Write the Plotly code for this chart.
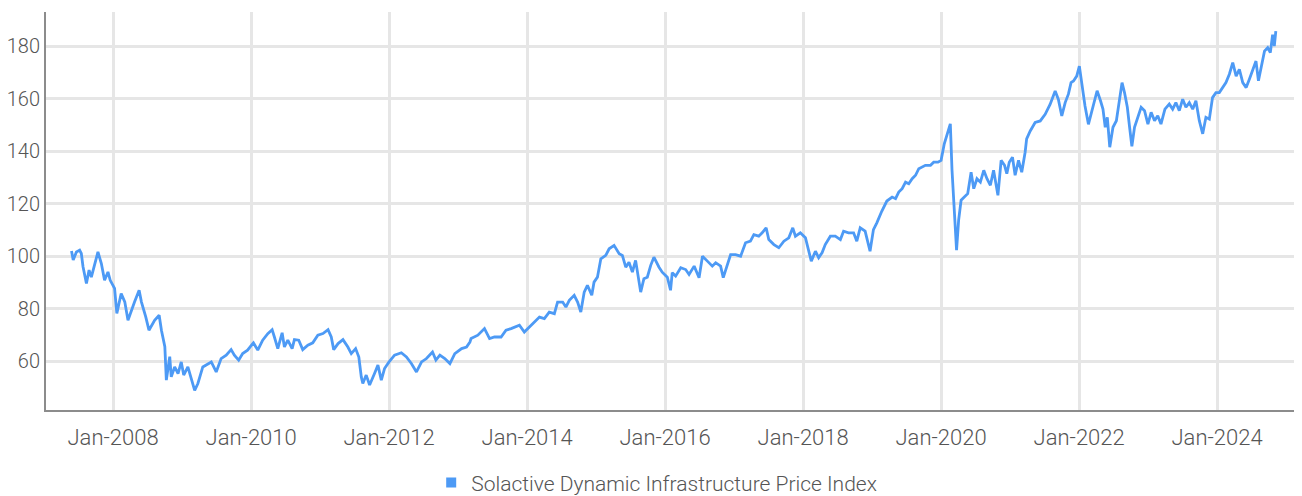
import plotly.graph_objects as go

series_name = "Solactive Dynamic Infrastructure Price Index"

dates = [
    "2007-05-26", "2007-06-04", "2007-06-21", "2007-07-08", "2007-07-17", "2007-07-26",
    "2007-08-13", "2007-08-27", "2007-09-08", "2007-09-21", "2007-10-13", "2007-10-31",
    "2007-11-17", "2007-12-05", "2007-12-17", "2008-01-09", "2008-01-21", "2008-02-13",
    "2008-03-03", "2008-03-20", "2008-04-07", "2008-04-24", "2008-05-18", "2008-05-30",
    "2008-06-22", "2008-07-09", "2008-08-08", "2008-09-01", "2008-09-13", "2008-10-01",
    "2008-10-09", "2008-10-27", "2008-11-04", "2008-11-22", "2008-12-10", "2008-12-27",
    "2009-01-09", "2009-01-31", "2009-03-08", "2009-03-25", "2009-04-20", "2009-05-17",
    "2009-06-04", "2009-06-30", "2009-07-26", "2009-08-22", "2009-09-17", "2009-10-04",
    "2009-10-27", "2009-11-17", "2009-12-13", "2010-01-09", "2010-01-13", "2010-02-05",
    "2010-03-03", "2010-03-30", "2010-04-22", "2010-05-04", "2010-05-22", "2010-06-14",
    "2010-06-26", "2010-07-14", "2010-08-06", "2010-08-18", "2010-09-10", "2010-10-01",
    "2010-10-28", "2010-11-23", "2010-12-20", "2011-01-16", "2011-02-12", "2011-03-01",
    "2011-03-14", "2011-04-06", "2011-05-02", "2011-05-28", "2011-06-15", "2011-07-08",
    "2011-07-25", "2011-08-07", "2011-08-15", "2011-09-02", "2011-09-20", "2011-10-16",
    "2011-11-03", "2011-11-21", "2011-12-08", "2012-01-01", "2012-01-30", "2012-03-06",
    "2012-04-02", "2012-04-28", "2012-05-25", "2012-06-21", "2012-07-17", "2012-08-18",
    "2012-09-05", "2012-09-26", "2012-10-22", "2012-11-18", "2012-12-14", "2013-01-19",
    "2013-02-14", "2013-03-04", "2013-03-10", "2013-04-15", "2013-05-20", "2013-06-16",
    "2013-07-12", "2013-08-16", "2013-09-11", "2013-10-08", "2013-10-25", "2013-11-21",
    "2013-12-17", "2014-01-13", "2014-02-08", "2014-03-07", "2014-04-02", "2014-04-28",
    "2014-05-25", "2014-06-11", "2014-07-08", "2014-07-25", "2014-08-12", "2014-09-07",
    "2014-09-25", "2014-10-12", "2014-10-30", "2014-11-16", "2014-12-09", "2014-12-21",
    "2015-01-08", "2015-01-26", "2015-02-21", "2015-03-11", "2015-04-06", "2015-05-03",
    "2015-05-20", "2015-06-07", "2015-06-24", "2015-07-12", "2015-07-29", "2015-08-25",
    "2015-09-11", "2015-09-29", "2015-10-17", "2015-11-03", "2015-11-30", "2015-12-17",
    "2016-01-13", "2016-01-30", "2016-02-08", "2016-02-26", "2016-03-24", "2016-04-19",
    "2016-05-07", "2016-06-03", "2016-06-29", "2016-07-17", "2016-08-12", "2016-09-07",
    "2016-09-25", "2016-10-21", "2016-11-04", "2016-11-25", "2016-12-13", "2017-01-08",
    "2017-02-04", "2017-03-02", "2017-03-28", "2017-04-15", "2017-05-11", "2017-05-29",
    "2017-06-19", "2017-07-03", "2017-07-30", "2017-08-25", "2017-09-21", "2017-10-17",
    "2017-11-07", "2017-11-21", "2017-12-17", "2018-01-13", "2018-01-30", "2018-02-13",
    "2018-03-07", "2018-03-24", "2018-04-11", "2018-04-28", "2018-05-25", "2018-06-20",
    "2018-07-17", "2018-08-03", "2018-08-29", "2018-09-25", "2018-10-12", "2018-10-30",
    "2018-11-25", "2018-12-09", "2018-12-21", "2019-01-08", "2019-01-26", "2019-02-21",
    "2019-03-20", "2019-04-17", "2019-05-05", "2019-05-22", "2019-06-09", "2019-06-27",
    "2019-07-14", "2019-08-01", "2019-08-19", "2019-09-05", "2019-09-23", "2019-10-10",
    "2019-11-06", "2019-11-23", "2019-12-16", "2020-01-01", "2020-01-18", "2020-02-06",
    "2020-02-19", "2020-02-28", "2020-03-12", "2020-03-23", "2020-04-03", "2020-04-16",
    "2020-05-03", "2020-05-21", "2020-06-08", "2020-06-22", "2020-07-09", "2020-07-27",
    "2020-08-14", "2020-08-31", "2020-09-18", "2020-10-05", "2020-10-28", "2020-11-14",
    "2020-12-02", "2020-12-14", "2020-12-27", "2021-01-13", "2021-01-27", "2021-02-14",
    "2021-03-03", "2021-03-21", "2021-03-29", "2021-04-17", "2021-05-13", "2021-06-09",
    "2021-07-05", "2021-07-31", "2021-08-27", "2021-09-13", "2021-10-01", "2021-10-19",
    "2021-11-05", "2021-11-19", "2021-12-02", "2021-12-19", "2022-01-02", "2022-01-15",
    "2022-02-01", "2022-02-19", "2022-03-12", "2022-04-06", "2022-04-24", "2022-05-07",
    "2022-05-19", "2022-05-30", "2022-06-12", "2022-06-29", "2022-07-17", "2022-08-03",
    "2022-08-16", "2022-08-29", "2022-09-13", "2022-09-25", "2022-10-07", "2022-10-21",
    "2022-11-08", "2022-11-25", "2022-12-13", "2022-12-31", "2023-01-17", "2023-02-04",
    "2023-02-21", "2023-03-10", "2023-03-31", "2023-04-23", "2023-05-11", "2023-05-28",
    "2023-06-15", "2023-07-03", "2023-07-20", "2023-08-07", "2023-08-25", "2023-09-11",
    "2023-09-29", "2023-10-17", "2023-11-03", "2023-11-21", "2023-12-08", "2023-12-26",
    "2024-01-13", "2024-01-30", "2024-02-17", "2024-03-06", "2024-03-24", "2024-04-11",
    "2024-04-28", "2024-05-16", "2024-06-03", "2024-06-20", "2024-07-08", "2024-07-25",
    "2024-08-07", "2024-08-21", "2024-09-08", "2024-09-25", "2024-10-09", "2024-10-21",
    "2024-10-30", "2024-11-07",
]

values = [
    102.0, 98.5, 101.6, 102.3, 101.0, 96.0,
    89.6, 94.7, 92.0, 96.0, 101.6, 97.2,
    90.8, 94.0, 90.8, 87.7, 78.2, 85.8,
    82.6, 75.6, 79.4, 82.6, 87.0, 82.6,
    76.9, 71.8, 75.6, 77.5, 71.8, 65.5,
    52.8, 61.7, 54.0, 57.8, 55.3, 59.7,
    54.7, 57.8, 48.9, 51.5, 57.8, 59.1,
    59.7, 55.9, 61.0, 62.3, 64.4, 62.3,
    60.4, 62.9, 64.2, 66.7, 67.0, 64.2,
    68.0, 70.5, 72.0, 69.2, 64.8, 70.8,
    65.4, 68.0, 64.8, 68.2, 68.0, 64.4,
    66.1, 67.0, 69.9, 70.5, 72.0, 69.2,
    64.4, 66.7, 68.2, 65.4, 62.9, 64.8,
    61.6, 54.0, 51.5, 54.7, 50.9, 55.3,
    58.5, 52.8, 57.2, 59.7, 62.3, 63.2,
    61.6, 59.1, 55.9, 59.7, 61.0, 63.5,
    60.4, 62.3, 61.0, 59.1, 62.9, 64.8,
    65.4, 67.3, 68.6, 69.9, 72.4, 68.6,
    69.2, 69.2, 71.8, 72.4, 73.0, 73.7,
    71.1, 73.0, 74.9, 76.8, 76.2, 78.7,
    78.1, 82.5, 82.5, 80.6, 83.2, 85.1,
    82.5, 78.7, 86.3, 88.9, 85.1, 90.1,
    92.0, 99.0, 100.3, 102.8, 104.1, 100.9,
    100.3, 95.8, 97.7, 93.9, 98.4, 86.3,
    91.4, 92.0, 96.5, 99.6, 95.8, 93.9,
    92.0, 87.0, 93.7, 92.4, 95.6, 94.9,
    93.0, 96.2, 91.8, 100.0, 98.1, 96.2,
    97.5, 96.2, 91.8, 96.2, 100.6, 100.6,
    100.0, 105.1, 105.7, 108.2, 107.6, 108.9,
    110.8, 106.3, 104.4, 103.2, 105.7, 107.0,
    110.8, 107.6, 108.9, 107.0, 102.5, 98.1,
    101.9, 99.4, 101.3, 104.4, 107.6, 107.6,
    106.3, 109.5, 108.9, 108.9, 105.7, 110.8,
    109.5, 105.7, 101.9, 110.1, 112.7, 117.1,
    121.0, 122.5, 121.9, 124.4, 125.7, 128.2,
    127.6, 129.5, 130.8, 133.3, 133.9, 134.6,
    134.6, 135.8, 135.8, 136.5, 142.8, 147.8,
    150.4, 132.7, 117.5, 102.3, 113.7, 121.3,
    122.5, 123.8, 132.0, 125.7, 129.5, 128.2,
    132.7, 129.5, 127.0, 132.7, 123.2, 136.5,
    134.6, 131.4, 135.8, 137.7, 130.8, 136.5,
    132.0, 139.6, 144.7, 147.7, 150.9, 151.5,
    154.0, 157.8, 162.9, 159.7, 153.4, 158.5,
    161.7, 166.1, 166.7, 168.6, 172.4, 165.5,
    157.2, 150.2, 155.9, 163.0, 159.2, 156.0,
    149.1, 152.9, 141.5, 149.1, 151.6, 160.4,
    166.1, 162.3, 156.7, 149.1, 141.8, 149.1,
    152.9, 156.7, 155.4, 150.3, 154.8, 151.6,
    153.5, 150.3, 156.0, 157.9, 156.0, 158.5,
    155.4, 159.8, 156.7, 158.5, 156.0, 159.2,
    151.6, 146.6, 152.9, 152.2, 160.4, 162.3,
    162.3, 164.2, 166.1, 169.3, 173.7, 168.6,
    171.2, 166.1, 164.2, 167.4, 171.2, 174.3,
    166.8, 172.4, 178.1, 179.4, 177.5, 184.4,
    180.0, 185.7,
]

y_ticks = [60, 80, 100, 120, 140, 160, 180]

line_color = "#4d9af5"
text_color = "#555555"
grid_color = "#e6e6e6"
axis_color = "#8c8c8c"
font_family = "Roboto, 'Open Sans', sans-serif"

fig = go.Figure()
fig.add_trace(go.Scatter(
    x=dates, y=values, mode="lines",
    line=dict(color=line_color, width=2.8),
    name=series_name, showlegend=False,
))
# legend entry with square symbol
fig.add_trace(go.Scatter(
    x=[None], y=[None], mode="markers",
    marker=dict(symbol="square", size=10, color=line_color),
    name=series_name, showlegend=True,
))

# the page body adds an 8px offset, so the figure is 8px smaller than the window
fig.update_layout(
    width=1294, height=488,
    margin=dict(l=38, r=2, t=4, b=86, autoexpand=False),
    paper_bgcolor="white", plot_bgcolor="white",
    font=dict(family=font_family, size=22, color=text_color, weight=300),
    showlegend=True,
    legend=dict(
        orientation="h", x=0.487, xanchor="center", y=-0.183, yanchor="middle",
        font=dict(size=21, color=text_color, weight=300), itemwidth=30,
    ),
    xaxis=dict(
        type="date",
        range=["2007-01-11", "2025-03-15"],
        tick0="2008-01-01", dtick="M24", tickformat="%b-%Y",
        showgrid=True, gridcolor=grid_color, gridwidth=3,
        showline=True, linecolor=axis_color, linewidth=2,
        ticks="outside", ticklen=7, tickcolor="rgba(0,0,0,0)",
        tickfont=dict(size=22, color=text_color, weight=300),
        zeroline=False, automargin=False,
    ),
    yaxis=dict(
        range=[41.4, 193],
        tickvals=y_ticks,
        showgrid=True, gridcolor=grid_color, gridwidth=3,
        showline=True, linecolor=axis_color, linewidth=2,
        ticks="",
        tickfont=dict(size=20, color=text_color, weight=300),
        zeroline=False, automargin=False,
    ),
)

fig.write_html("out.html")
